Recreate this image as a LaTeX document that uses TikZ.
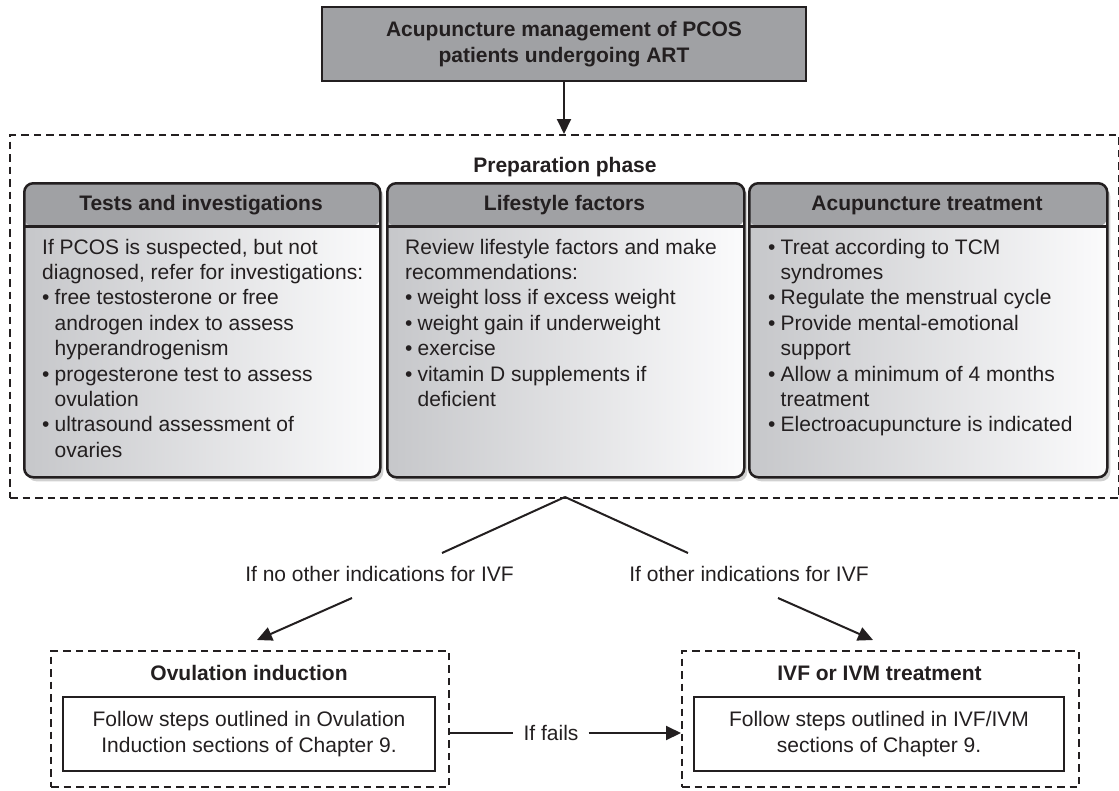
\documentclass[tikz,border=0pt]{standalone}
\usepackage{fontspec}
\setmainfont{Liberation Sans}
\usetikzlibrary{arrows.meta,shadows}

\definecolor{ink}{RGB}{35,31,32}
\definecolor{hdrgray}{RGB}{160,161,164}
\definecolor{bodyleft}{RGB}{198,199,202}
\definecolor{bodyright}{RGB}{251,251,252}

% bullet line and its hanging continuation
\newcommand{\bulitem}[1]{\makebox[12.5pt][l]{\textbullet}#1}
\newcommand{\contline}[1]{\hspace*{12.5pt}#1}

\begin{document}
\begin{tikzpicture}[x=1pt,y=-1pt,
  txt/.style={font=\fontsize{21}{25.4}\selectfont, text=ink, inner sep=0pt},
  btxt/.style={font=\fontsize{21}{25.4}\selectfont\bfseries, text=ink, inner sep=0pt},
  titlebox/.style={draw=ink, line width=2pt, fill=hdrgray, inner sep=0pt,
    font=\fontsize{21}{25.4}\selectfont\bfseries, text=ink, align=center},
  dashbox/.style={draw=ink, line width=2pt, dash pattern=on 7.5pt off 5pt, inner sep=0pt},
  innerbox/.style={draw=ink, line width=2.5pt, fill=white, inner sep=0pt,
    font=\fontsize{21}{25.4}\selectfont, text=ink, align=center},
  panel/.style={draw=ink, line width=2.5pt, rounded corners=9pt, inner sep=0pt,
    left color=bodyleft, right color=bodyright,
    drop shadow={shadow xshift=3pt, shadow yshift=-4pt, opacity=0.18, fill=black},
    path picture={
      \fill[hdrgray] (path picture bounding box.north west) rectangle
        ([yshift=-43pt]path picture bounding box.north east);
      \draw[ink, line width=2.5pt] ([yshift=-43pt]path picture bounding box.north west) --
        ([yshift=-43pt]path picture bounding box.north east);
    }},
  conn/.style={draw=ink, line width=2pt},
  arrowed/.style={-{Triangle[length=15pt,width=14pt]}},
  bodytext/.style={txt, anchor=base west}
]
\fill[white] (0,0) rectangle (1119,790);
\useasboundingbox (0,0) rectangle (1119,790);

% title
\node[titlebox, minimum width=484pt, minimum height=74pt] (title) at (564,44)
  {Acupuncture management of PCOS\\patients undergoing ART};

% preparation phase frame
\node[dashbox, minimum width=1109pt, minimum height=363pt, anchor=north west] (prep) at (9,134) {};
\node[btxt, anchor=base] (prephead) at (565,172) {Preparation phase};

\draw[conn, arrowed] (title.south) -- (title.south |- prep.north);

% three panels
\node[panel, minimum width=356pt, minimum height=294pt, anchor=north west] (p1) at (23,182) {};
\node[panel, minimum width=357pt, minimum height=294pt, anchor=north west] (p2) at (386,182) {};
\node[panel, minimum width=358pt, minimum height=294pt, anchor=north west] (p3) at (748,182) {};

\node[btxt, anchor=base] (h1) at (201,210.5) {Tests and investigations};
\node[btxt, anchor=base] (h2) at (564.5,210.5) {Lifestyle factors};
\node[btxt, anchor=base] (h3) at (927,210.5) {Acupuncture treatment};

\node[bodytext] (b1) at (42,254) {\parbox[t]{340pt}{%
If PCOS is suspected, but not\\
diagnosed, refer for investigations:\\
\bulitem{free testosterone or free}\\
\contline{androgen index to assess}\\
\contline{hyperandrogenism}\\
\bulitem{progesterone test to assess}\\
\contline{ovulation}\\
\bulitem{ultrasound assessment of}\\
\contline{ovaries}}};

\node[bodytext] (b2) at (405,254) {\parbox[t]{340pt}{%
Review lifestyle factors and make\\
recommendations:\\
\bulitem{weight loss if excess weight}\\
\bulitem{weight gain if underweight}\\
\bulitem{exercise}\\
\bulitem{vitamin D supplements if}\\
\contline{deficient}}};

\node[bodytext] (b3) at (768,254) {\parbox[t]{340pt}{%
\bulitem{Treat according to TCM}\\
\contline{syndromes}\\
\bulitem{Regulate the menstrual cycle}\\
\bulitem{Provide mental-emotional}\\
\contline{support}\\
\bulitem{Allow a minimum of 4 months}\\
\contline{treatment}\\
\bulitem{Electroacupuncture is indicated}}};

% outcome boxes
\node[dashbox, minimum width=398pt, minimum height=136pt, anchor=north west] (oi) at (50,650) {};
\node[btxt, anchor=base] (oihead) at (249,680.5) {Ovulation induction};
\node[innerbox, minimum width=372pt, minimum height=74pt] (oiin) at (249,734)
  {Follow steps outlined in Ovulation\\Induction sections of Chapter 9.};

\node[dashbox, minimum width=397pt, minimum height=136pt, anchor=north west] (ivf) at (681,650) {};
\node[btxt, anchor=base] (ivfhead) at (879.5,680.5) {IVF or IVM treatment};
\node[innerbox, minimum width=370pt, minimum height=74pt] (ivfin) at (879,734)
  {Follow steps outlined in IVF/IVM\\sections of Chapter 9.};

% branching connectors
\coordinate (junc) at (565,497);
\coordinate (lA) at (442,553);
\coordinate (lB) at (352,598);
\coordinate (lT) at (257,640);
\coordinate (rA) at (688,553);
\coordinate (rB) at (778,598);
\coordinate (rT) at (873,640);

\node[txt, anchor=base] (lblL) at (379.5,581.5) {If no other indications for IVF};
\node[txt, anchor=base] (lblR) at (749,581.5) {If other indications for IVF};

\draw[conn] (junc) -- (lA);
\draw[conn, arrowed] (lB) -- (lT);
\draw[conn] (junc) -- (rA);
\draw[conn, arrowed] (rB) -- (rT);

% fallback connector
\node[txt, inner xsep=10pt] (lblF) at (551,733) {If fails};
\draw[conn] (oi.east |- lblF.west) -- (lblF.west);
\draw[conn, arrowed] (lblF.east) -- (ivf.west |- lblF.east);
\end{tikzpicture}
\end{document}
